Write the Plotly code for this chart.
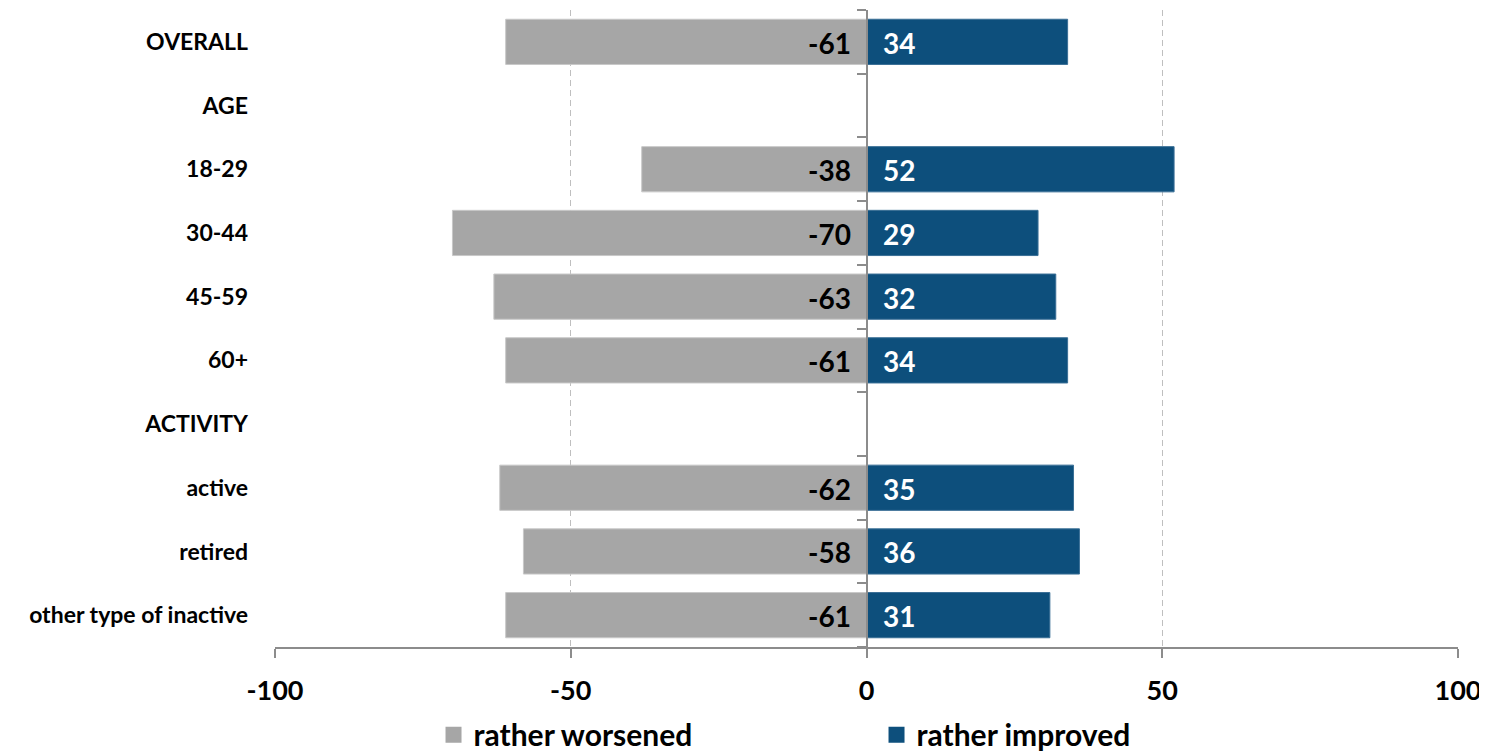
import plotly.graph_objects as go

categories = ["OVERALL", "AGE", "18-29", "30-44", "45-59", "60+", "ACTIVITY",
              "active", "retired", "other type of inactive"]
worsened = [-61, None, -38, -70, -63, -61, None, -62, -58, -61]
improved = [34, None, 52, 29, 32, 34, None, 35, 36, 31]
x_ticks = [-100, -50, 0, 50, 100]
series_names = ["rather worsened", "rather improved"]

GRAY = "#A6A6A6"
BLUE = "#0D4F7C"
FONT = "Lato"

ypos = list(range(len(categories)))

fig = go.Figure()
fig.add_trace(go.Bar(y=ypos, x=worsened, orientation="h", name=series_names[0],
                     marker=dict(color=GRAY, line=dict(color="#C8C8C8", width=1)),
                     width=0.71, hoverinfo="x", showlegend=False))
fig.add_trace(go.Bar(y=ypos, x=improved, orientation="h", name=series_names[1],
                     marker=dict(color=BLUE, line=dict(color="#3A6F96", width=1)),
                     width=0.71, hoverinfo="x", showlegend=False, yaxis="y2"))
# legend entries with larger square swatches
for nm, col in zip(series_names, [GRAY, BLUE]):
    fig.add_trace(go.Scatter(x=[None], y=[None], mode="markers", name=nm,
                             marker=dict(symbol="square", size=19, color=col)))

for yv, w, im in zip(ypos, worsened, improved):
    if w is not None:
        fig.add_annotation(x=0, y=yv, text=str(w), showarrow=False, xanchor="right",
                           xshift=-14, yshift=-1,
                           font=dict(family=FONT, size=28, color="black", weight="bold"))
    if im is not None:
        fig.add_annotation(x=0, y=yv, text=str(im), showarrow=False, xanchor="left",
                           xshift=14, yshift=-1,
                           font=dict(family=FONT, size=28, color="white", weight="bold"))

fig.update_layout(
    width=1479, height=744,
    margin=dict(l=267, r=29, t=2, b=105, autoexpand=False),
    plot_bgcolor="white", paper_bgcolor="white",
    barmode="overlay",
    font=dict(family=FONT, color="black"),
    showlegend=True,
    legend=dict(orientation="h", x=0.134, xanchor="left", xref="paper",
                y=-0.097, yanchor="top", yref="paper",
                entrywidth=398, entrywidthmode="pixels",
                font=dict(family=FONT, size=30, color="black", weight="bold"),
                itemclick=False),
    xaxis=dict(range=[-100, 100], tickvals=x_ticks, ticktext=[str(t) for t in x_ticks],
               showgrid=True, gridcolor="#BFBFBF", griddash="6px,4px", gridwidth=1,
               zeroline=False, showline=True, linecolor="#8C8C8C", linewidth=2,
               ticks="outside", ticklen=9, tickcolor="#8C8C8C", tickwidth=2,
               tickfont=dict(family=FONT, size=27, color="black", weight="bold"),
               ticklabelstandoff=10, automargin=False),
    yaxis=dict(range=[9.5, -0.5], tickvals=ypos, ticktext=categories,
               showgrid=False, zeroline=False, showline=False, ticks="",
               tickfont=dict(family=FONT, size=23, color="black", weight="bold"),
               ticklabelstandoff=26, automargin=False),
    yaxis2=dict(range=[9.5, -0.5], overlaying="y", anchor="free", position=0.5,
                side="left", showline=True, linecolor="#8C8C8C", linewidth=2,
                tickvals=[v - 0.5 for v in ypos] + [9.5], ticks="outside", ticklen=9,
                tickcolor="#8C8C8C", tickwidth=2, showticklabels=False,
                showgrid=False, zeroline=False, layer="above traces", automargin=False),
)

fig.write_html("out.html")
